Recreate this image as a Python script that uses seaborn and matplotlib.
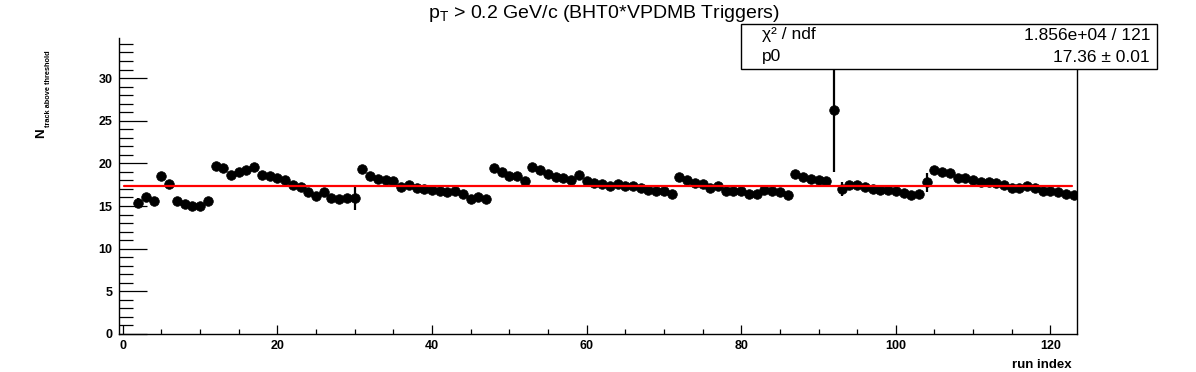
#!/usr/bin/env python3

import numpy as np
import pandas as pd
import matplotlib
matplotlib.use("Agg")
import matplotlib.pyplot as plt
import seaborn as sns
from matplotlib.patches import Rectangle
from matplotlib.ticker import MultipleLocator

# *** data (runs 2..123) ***
run_index = list(range(2, 124))
n_track = [
    15.39, 16.08, 15.54, 18.57, 17.64, 15.54, 15.27, 14.95, 15.03, 15.58,
    19.74, 19.47, 18.65, 19.04, 19.24, 19.63, 18.65, 18.57, 18.30, 18.03,
    17.52, 17.25, 16.67, 16.16, 16.63, 15.93, 15.85, 15.93, 15.93, 19.39,
    18.57, 18.22, 18.10, 17.91, 17.25, 17.48, 17.17, 16.94, 16.86, 16.71,
    16.59, 16.79, 16.43, 15.85, 16.00, 15.85, 19.50, 19.04, 18.54, 18.54,
    17.99, 19.63, 19.24, 18.81, 18.46, 18.30, 18.07, 18.65, 17.99, 17.74,
    17.64, 17.33, 17.56, 17.40, 17.33, 17.10, 16.90, 16.74, 16.74, 16.43,
    18.38, 18.03, 17.72, 17.64, 17.13, 17.33, 16.78, 16.71, 16.71, 16.43,
    16.39, 16.86, 16.79, 16.67, 16.32, 18.73, 18.42, 18.22, 18.07, 17.95,
    26.20, 17.00, 17.52, 17.52, 17.21, 17.00, 16.86, 16.86, 16.74, 16.55,
    16.32, 16.39, 17.80, 19.20, 18.96, 18.85, 18.30, 18.30, 18.03, 17.87,
    17.80, 17.68, 17.48, 17.10, 17.17, 17.29, 17.10, 16.74, 16.82, 16.59,
    16.36, 16.24,
]
# most errors are hidden by the markers
n_track_err = [0.2] * len(run_index)
n_track_err[0] = 0.6      # run 2
n_track_err[28] = 1.4     # run 30
n_track_err[90] = 7.24    # run 92
n_track_err[91] = 0.8     # run 93
n_track_err[102] = 1.1    # run 104

fit_p0 = 17.36
fit_range = [0.15, 122.8]
stats_rows = [("χ² / ndf", "1.856e+04 / 121"), ("p0", "17.36 ± 0.01")]

W, H = 1196, 372


def fx(px):
    return px / W


def fy(py):
    return 1 - py / H


sns.set_style("white")
plt.rcParams["font.family"] = ["Liberation Sans", "DejaVu Sans"]
plt.rcParams["mathtext.fontset"] = "custom"
plt.rcParams["mathtext.rm"] = "Liberation Sans"
plt.rcParams["mathtext.it"] = "Liberation Sans"
plt.rcParams["mathtext.bf"] = "Liberation Sans:bold"
plt.rcParams["text.color"] = "black"
plt.rcParams["xtick.color"] = "black"
plt.rcParams["ytick.color"] = "black"

df = pd.DataFrame({"run": run_index, "n": n_track, "err": n_track_err})
fit_df = pd.DataFrame({"run": fit_range, "n": [fit_p0, fit_p0]})

fig = plt.figure(figsize=(W / 100, H / 100), dpi=100)
ax = fig.add_axes([fx(119.3), fy(334), fx(1076.7) - fx(119.3), fy(38.3) - fy(334)])

ax.errorbar(df["run"], df["n"], yerr=df["err"], fmt="none", ecolor="black",
            elinewidth=1.6, capsize=0, zorder=2)
sns.scatterplot(data=df, x="run", y="n", ax=ax, color="black", s=48,
                edgecolor="black", linewidth=0.5, zorder=3, legend=False)
sns.lineplot(data=fit_df, x="run", y="n", ax=ax, color="red", linewidth=1.6,
             zorder=4)

ax.set_xlim(-0.45, 123.4)
ax.set_ylim(0, 34.66)
ax.set_xlabel("")
ax.set_ylabel("")

ax.xaxis.set_major_locator(MultipleLocator(20))
ax.xaxis.set_minor_locator(MultipleLocator(5))
ax.yaxis.set_major_locator(MultipleLocator(5))
ax.yaxis.set_minor_locator(MultipleLocator(1))
ax.tick_params(bottom=True, left=True, top=False, right=False, which="both")
ax.tick_params(axis="y", which="major", direction="in", length=20.5, width=0.9,
               pad=5, labelsize=9)
ax.tick_params(axis="y", which="minor", direction="in", length=10, width=0.9)
ax.tick_params(axis="x", which="major", direction="in", length=6.5, width=0.9,
               pad=4, labelsize=9)
ax.tick_params(axis="x", which="minor", direction="in", length=3.3, width=0.9)
for lab in ax.get_xticklabels() + ax.get_yticklabels():
    lab.set_fontweight("bold")

for side in ["left", "bottom", "right"]:
    ax.spines[side].set_visible(True)
    ax.spines[side].set_color("black")
    ax.spines[side].set_linewidth(1.0)
ax.spines["top"].set_visible(False)

# title and axis titles
fig.text(fx(604), fy(13), "p$_\\mathregular{T}$ > 0.2 GeV/c (BHT0*VPDMB Triggers)",
         ha="center", va="center", fontsize=14)
fig.text(fx(1072), fy(365), "run index", ha="right", va="center",
         fontsize=9.5, fontweight="bold")
fig.text(fx(41), fy(138), "N", rotation=90, ha="center", va="bottom",
         fontsize=9.5, fontweight="bold")
fig.text(fx(48.5), fy(127), "track above threshold", rotation=90,
         ha="center", va="bottom", fontsize=5.3, fontweight="bold")

# stats box
fig.add_artist(Rectangle((fx(741), fy(68.5)), fx(1157) - fx(741), fy(24) - fy(68.5),
                         transform=fig.transFigure, facecolor="white",
                         edgecolor="black", linewidth=1.0, zorder=10))
for (name, value), yy in zip(stats_rows, [35, 57]):
    fig.text(fx(762), fy(yy), name, ha="left", va="center", fontsize=12.5,
             zorder=11)
    fig.text(fx(1150), fy(yy), value, ha="right", va="center", fontsize=12.5,
             zorder=11)

fig.savefig("out.png", dpi=100)
